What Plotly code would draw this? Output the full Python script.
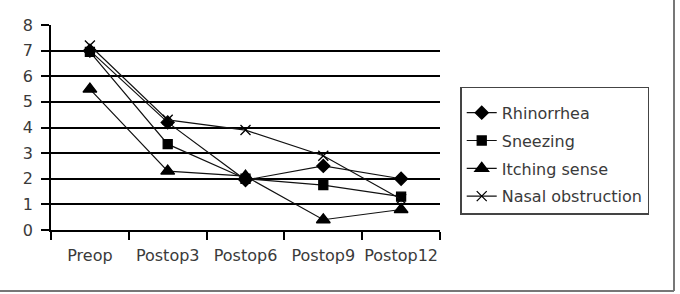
import plotly.graph_objects as go

categories = ["Preop", "Postop3", "Postop6", "Postop9", "Postop12"]
rhinorrhea = [7.0, 4.2, 1.95, 2.5, 2.0]
sneezing = [6.95, 3.35, 2.0, 1.75, 1.3]
itching = [5.5, 2.3, 2.1, 0.4, 0.8]
nasal_obstruction = [7.2, 4.3, 3.9, 2.9, 1.2]

series = [
    ("Rhinorrhea", rhinorrhea, "diamond", 10),
    ("Sneezing", sneezing, "square", 9),
    ("Itching sense", itching, "triangle-up", 12),
    ("Nasal obstruction", nasal_obstruction, "x-thin", 10),
]

fig = go.Figure()
for name, vals, sym, sz in series:
    fig.add_trace(go.Scatter(
        x=categories, y=vals, name=name, legendgroup=name,
        mode="lines+markers",
        line=dict(color="#111111", width=1.2),
        marker=dict(symbol=sym, size=sz, color="#000000",
                    line=dict(color="#000000", width=1.3)),
    ))

font = "DejaVu Sans, sans-serif"
fig.update_layout(
    width=680, height=294,
    margin=dict(l=51, r=240, t=25, b=64, autoexpand=False),
    paper_bgcolor="white", plot_bgcolor="white",
    font=dict(family=font, size=16, color="#3a3a3a"),
    showlegend=True,
    legend=dict(
        x=1.052, xanchor="left", y=0.70, yanchor="top",
        bordercolor="#444444", borderwidth=1.5,
        font=dict(size=16, color="#3a3a3a"),
        tracegroupgap=4,
        bgcolor="white",
        title=dict(text=" ", font=dict(size=6)),
    ),
    xaxis=dict(
        type="category", range=[-0.5, 4.5], automargin=False,
        showgrid=False, showline=True, linecolor="black", linewidth=1.5,
        ticks="outside", ticklen=8, tickwidth=1.5, tickcolor="black",
        tickson="boundaries", ticklabelstandoff=10, tickangle=0,
        tickfont=dict(size=16, color="#3a3a3a"),
    ),
    yaxis=dict(
        range=[0, 8], dtick=1, showgrid=True, gridcolor="black", gridwidth=1.5,
        showline=True, linecolor="black", linewidth=1.5, automargin=False,
        ticks="outside", ticklen=8, tickwidth=1.5, tickcolor="black",
        ticklabelstandoff=5,
        zeroline=False, tickfont=dict(size=16, color="#3a3a3a"),
    ),
    shapes=[
        dict(type="line", xref="paper", yref="paper",
             x0=(674 - 51) / 389, x1=(674 - 51) / 389,
             y0=(230 - 0) / 205, y1=(230 - 291) / 205,
             line=dict(color="#777777", width=2)),
        dict(type="line", xref="paper", yref="paper",
             x0=-51 / 389, x1=(674 - 51) / 389,
             y0=(230 - 291) / 205, y1=(230 - 291) / 205,
             line=dict(color="#777777", width=2)),
    ],
)

fig.write_html("out.html")
